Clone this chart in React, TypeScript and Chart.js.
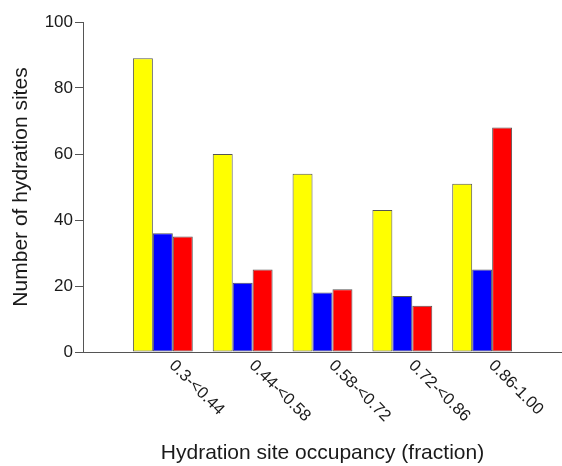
import React, { useEffect, useRef } from "react";
import { Chart, registerables } from "chart.js";

Chart.register(...registerables);

const categories = ["0.3-<0.44", "0.44-<0.58", "0.58-<0.72", "0.72-<0.86", "0.86-1.00"];
const seriesYellow = [89, 60, 54, 43, 51];
const seriesBlue = [36, 21, 18, 17, 25];
const seriesRed = [35, 25, 19, 14, 68];
const yTicks = [0, 20, 40, 60, 80, 100];

const FONT = "'Liberation Sans', Arial, Helvetica, sans-serif";
const AXIS = "#555555";
const TEXT = "#1a1a1a";

const toPoints = (vals: number[]) => vals.map((v, i) => ({ x: i + 1, y: v }));

const rotatedLabels = {
  id: "rotatedLabels",
  afterDraw(chart: any) {
    const ctx = chart.ctx;
    const xs = chart.scales.x;
    const bottom = chart.chartArea.bottom;
    ctx.save();
    ctx.font = `16.5px ${FONT}`;
    ctx.fillStyle = TEXT;
    ctx.textAlign = "left";
    ctx.textBaseline = "middle";
    categories.forEach((c, i) => {
      const px = xs.getPixelForValue(i + 1);
      ctx.save();
      ctx.translate(px + 9, bottom + 11);
      ctx.rotate(Math.PI / 4);
      ctx.fillText(c, 0, 0);
      ctx.restore();
    });
    ctx.restore();
  },
};

export default function App() {
  const ref = useRef<HTMLCanvasElement>(null);
  useEffect(() => {
    if (!ref.current) return;
    const chart = new Chart(ref.current, {
      type: "bar",
      data: {
        datasets: [
          { label: "Yellow", data: toPoints(seriesYellow), backgroundColor: "#ffff00", borderColor: AXIS, borderWidth: 1, borderSkipped: false },
          { label: "Blue", data: toPoints(seriesBlue), backgroundColor: "#0000ff", borderColor: AXIS, borderWidth: 1, borderSkipped: false },
          { label: "Red", data: toPoints(seriesRed), backgroundColor: "#ff0000", borderColor: AXIS, borderWidth: 1, borderSkipped: false },
        ],
      },
      options: {
        responsive: false,
        animation: false,
        layout: { padding: { top: 22, left: 0, right: 0, bottom: 0 } },
        datasets: { bar: { categoryPercentage: 0.75, barPercentage: 1 } },
        plugins: { legend: { display: false }, tooltip: { enabled: false } },
        scales: {
          x: {
            type: "linear",
            offset: false,
            min: 0,
            max: categories.length + 1,
            grid: { display: false, offset: false },
            border: { display: true, color: AXIS, width: 1 },
            ticks: { display: false },
            title: {
              display: true,
              text: "Hydration site occupancy (fraction)",
              font: { family: FONT, size: 21 },
              color: TEXT,
              padding: { top: 0, bottom: 0 },
            },
            afterFit: (s: any) => {
              s.height = 114;
            },
          },
          y: {
            min: 0,
            max: 100,
            afterBuildTicks: (s: any) => {
              s.ticks = yTicks.map((v) => ({ value: v }));
            },
            grid: { display: true, drawOnChartArea: false, drawTicks: true, tickLength: 8, color: AXIS },
            border: { display: true, color: AXIS, width: 1 },
            ticks: { font: { family: FONT, size: 17 }, color: TEXT, padding: 2 },
            title: {
              display: true,
              text: "Number of hydration sites",
              font: { family: FONT, size: 21 },
              color: TEXT,
              padding: { top: 9, bottom: 0 },
            },
            afterFit: (s: any) => {
              s.width = 83;
            },
          },
        },
      },
      plugins: [rotatedLabels],
    } as any);
    return () => chart.destroy();
  }, []);
  return (
    <div style={{ position: "absolute", left: 0, top: 0, width: 562, height: 466, background: "#fff" }}>
      <canvas ref={ref} width={562} height={466} />
    </div>
  );
}
